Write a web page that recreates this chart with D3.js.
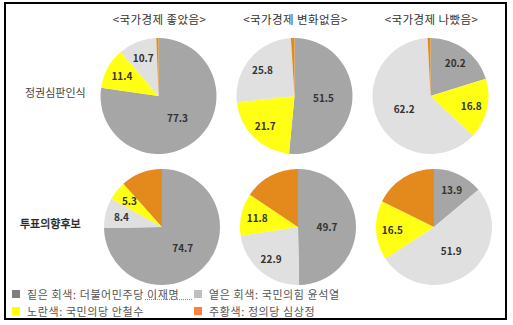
<!DOCTYPE html>
<html>
<head>
<meta charset="utf-8">
<script src="https://cdn.jsdelivr.net/npm/d3@7"></script>
<style>
  html, body { margin: 0; padding: 0; background: #fff; }
  svg { display: block; }
  text { font-family: "Noto Sans CJK KR", "Noto Sans", sans-serif; }
</style>
</head>
<body>
<svg id="chart" width="513" height="325"></svg>
<script>
// Column headings (economy perception groups) and row headings (question)
const columns = ["<국가경제 좋았음>", "<국가경제 변화없음>", "<국가경제 나빴음>"];
const rows = ["정권심판인식", "투표의향후보"];

// Candidate keys and legend text
const parties = ["lee", "yoon", "ahn", "sim"];
const legendLabels = [
  "짙은 회색: 더불어민주당 이재명",
  "옅은 회색: 국민의힘 윤석열",
  "노란색: 국민의당 안철수",
  "주황색: 정의당 심상정"
];

// Slice order (clockwise from 12 o'clock) differs between the two rows
const sliceOrder = [
  ["lee", "ahn", "yoon", "sim"],
  ["lee", "yoon", "ahn", "sim"]
];

// Shares (%) per row, per column
const lee  = [[77.3, 51.5, 20.2], [74.7, 49.7, 13.9]];
const yoon = [[10.7, 25.8, 62.2], [8.4, 22.9, 51.9]];
const ahn  = [[11.4, 21.7, 16.8], [5.3, 11.8, 16.5]];
const sim  = [[0.6, 1.0, 0.8], [11.6, 15.6, 17.7]];
// Which slices carry a value label
const labelled = { lee: true, yoon: true, ahn: true, sim: false };

const sliceColor = d3.scaleOrdinal()
  .domain(parties)
  .range(["#a6a6a6", "#e0e0e0", "#ffff14", "#e4891b"]);
const legendColor = d3.scaleOrdinal()
  .domain(parties)
  .range(["#7f7f7f", "#bfbfbf", "#ffff00", "#ff7f3f"]);

const values = { lee, yoon, ahn, sim };

const svg = d3.select("#chart");

// Outer frame
svg.append("rect")
  .attr("x", 5).attr("y", 3)
  .attr("width", 501).attr("height", 316)
  .attr("fill", "none").attr("stroke", "#000").attr("stroke-width", 2);

const R = 58;
const colX = d3.scalePoint().domain(d3.range(columns.length)).range([158.5, 430.5]);
const rowY = d3.scalePoint().domain(d3.range(rows.length)).range([96, 227]);
const rowShift = [0, 3.5];

// Column titles
svg.selectAll("text.col-title")
  .data(columns)
  .join("text")
  .attr("class", "col-title")
  .attr("x", (d, i) => colX(i) + 1)
  .attr("y", 24)
  .attr("text-anchor", "middle")
  .attr("font-size", 11.5)
  .attr("letter-spacing", 0.4)
  .attr("fill", "#333")
  .text(d => d);

// Row titles
svg.selectAll("text.row-title")
  .data(rows)
  .join("text")
  .attr("class", "row-title")
  .attr("x", (d, i) => i === 0 ? 25 : 20)
  .attr("y", (d, i) => rowY(i) - 2)
  .attr("dominant-baseline", "middle")
  .attr("font-size", 11)
  .attr("fill", (d, i) => i === 1 ? "#222" : "#444")
  .attr("stroke", (d, i) => i === 1 ? "#222" : "none")
  .attr("stroke-width", 0.35)
  .text(d => d);

const pie = d3.pie().sort(null).value(d => d.value);
const arc = d3.arc().innerRadius(0).outerRadius(R);

rows.forEach((rowName, r) => {
  columns.forEach((colName, c) => {
    const slices = sliceOrder[r].map(k => ({ key: k, value: values[k][r][c] }));
    const g = svg.append("g")
      .attr("transform", `translate(${colX(c) + rowShift[r]},${rowY(r)})`);
    const arcs = pie(slices);

    g.selectAll("path")
      .data(arcs)
      .join("path")
      .attr("d", arc)
      .attr("fill", d => sliceColor(d.data.key));

    // Value labels: big slices nearer the centre, small ones nearer the rim
    g.selectAll("text")
      .data(arcs.filter(d => labelled[d.data.key]))
      .join("text")
      .attr("transform", d => {
        const rr = d.data.value > 40 ? R * 0.5 : R * 0.72;
        const [x, y] = d3.arc().innerRadius(rr).outerRadius(rr).centroid(d);
        return `translate(${x},${y})`;
      })
      .attr("text-anchor", "middle")
      .attr("dominant-baseline", "central")
      .attr("font-size", 10)
      .attr("font-weight", 700)
      .attr("fill", "#333")
      .text(d => d.data.value.toFixed(1));
  });
});

// Legend: two rows, two columns
const legX = [12, 194];
const legY = [294, 311];
const legend = svg.selectAll("g.legend")
  .data(parties)
  .join("g")
  .attr("class", "legend")
  .attr("transform", (d, i) => `translate(${legX[i % 2]},${legY[Math.floor(i / 2)]})`);

legend.append("rect")
  .attr("x", 0).attr("y", -4)
  .attr("width", 8).attr("height", 8)
  .attr("fill", d => legendColor(d));

legend.append("text")
  .attr("x", 15)
  .attr("y", 0)
  .attr("dominant-baseline", "central")
  .attr("font-size", 11)
  .attr("letter-spacing", 0.6)
  .attr("fill", "#555")
  .text((d, i) => legendLabels[i]);

// Dotted proofing underline beneath the first legend entry's tail
svg.append("line")
  .attr("x1", 145).attr("x2", 193)
  .attr("y1", 299.5).attr("y2", 299.5)
  .attr("stroke", "#e0701e")
  .attr("stroke-width", 1)
  .attr("stroke-dasharray", "1,1");
</script>
</body>
</html>
